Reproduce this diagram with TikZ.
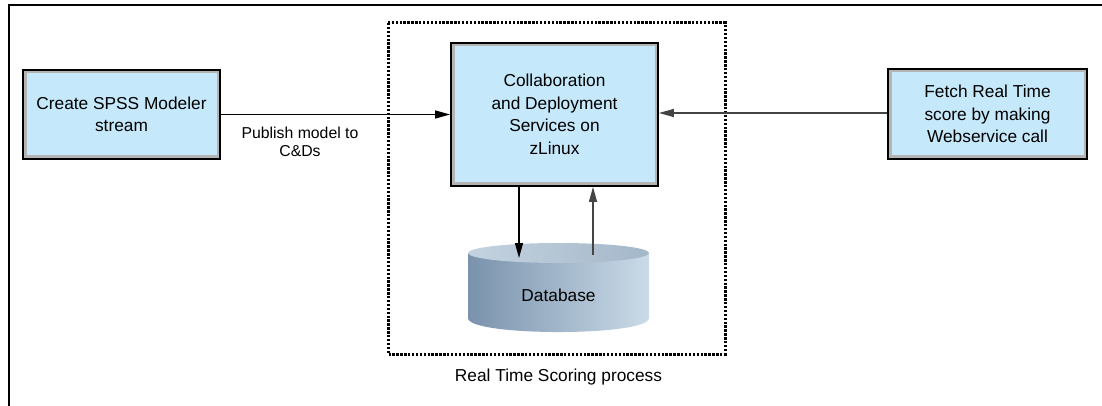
\documentclass[tikz,border=0pt]{standalone}
\usepackage{fontspec}
\setmainfont{Liberation Sans}
\usetikzlibrary{arrows.meta}
\definecolor{boxblue}{HTML}{C5E8FB}
\definecolor{boxgrey}{HTML}{B4B4B4}
\definecolor{dbdark}{HTML}{7A92AC}
\definecolor{dblight}{HTML}{CADBE8}
\definecolor{dbtopl}{HTML}{C4D3E0}
\definecolor{dbtopr}{HTML}{A4B7C9}
\definecolor{linegrey}{HTML}{444444}
\tikzset{
  procbox/.style={fill=boxblue, draw=black, line width=1.8pt, align=center,
    inner sep=0pt, font=\fontsize{17.3}{22.5}\selectfont,
    path picture={\draw[boxgrey, line width=7pt]
      (path picture bounding box.south west) rectangle (path picture bounding box.north east);}},
  conn/.style={line width=1.3pt, -{Triangle[length=15pt,width=8pt]}},
  lbl/.style={align=center, inner sep=0pt},
}
\begin{document}
\begin{tikzpicture}[x=1pt,y=-1pt]
\useasboundingbox (0,0) rectangle (1102,406);
% outer frame (top and left edges)
\draw[line width=1.3pt] (9,406) -- (9,5) -- (1102,5);
% dotted process boundary
\draw[line width=3pt, dash pattern=on 2.4pt off 1.5pt] (388,23) rectangle (725,354);
% boxes
\node[procbox, minimum width=197pt, minimum height=89pt] (create) at (121.5,114.5)
  {Create SPSS Modeler\\stream};
\node[procbox, minimum width=207pt, minimum height=143pt] (cds) at (554.5,114.5)
  {Collaboration\\and Deployment\\Services on\\zLinux};
\node[procbox, minimum width=199pt, minimum height=90pt] (fetch) at (987.5,114)
  {Fetch Real Time\\score by making\\Webservice call};
% database cylinder
\shade[left color=dbdark, right color=dblight]
  (468,253) -- (468,318) .. controls (468,336.7) and (649,336.7) .. (649,318) -- (649,253) -- cycle;
\shade[left color=dbtopl, right color=dbtopr] (558.5,253) ellipse [x radius=90.5, y radius=10];
\node[lbl, font=\fontsize{17.3}{22.5}\selectfont] (db) at (558.5,295) {Database};
\coordinate (dbin) at (519,258);
\coordinate (dbout) at (593,255);
% connectors
\draw[conn] (create.east) -- (create.east -| cds.west);
\draw[conn, linegrey] (fetch.west |- 0,113) -- (cds.east |- 0,113);
\draw[conn] (cds.south -| dbin) -- (dbin);
\draw[conn, linegrey] (dbout) -- (cds.south -| dbout);
% labels
\node[lbl, font=\fontsize{15.8}{18.5}\selectfont] (pub) at (300,142) {Publish model to\\C\&Ds};
\node[lbl, font=\fontsize{17.3}{22.5}\selectfont] (rts) at (558.5,377) {Real Time Scoring process};
\end{tikzpicture}
\end{document}
